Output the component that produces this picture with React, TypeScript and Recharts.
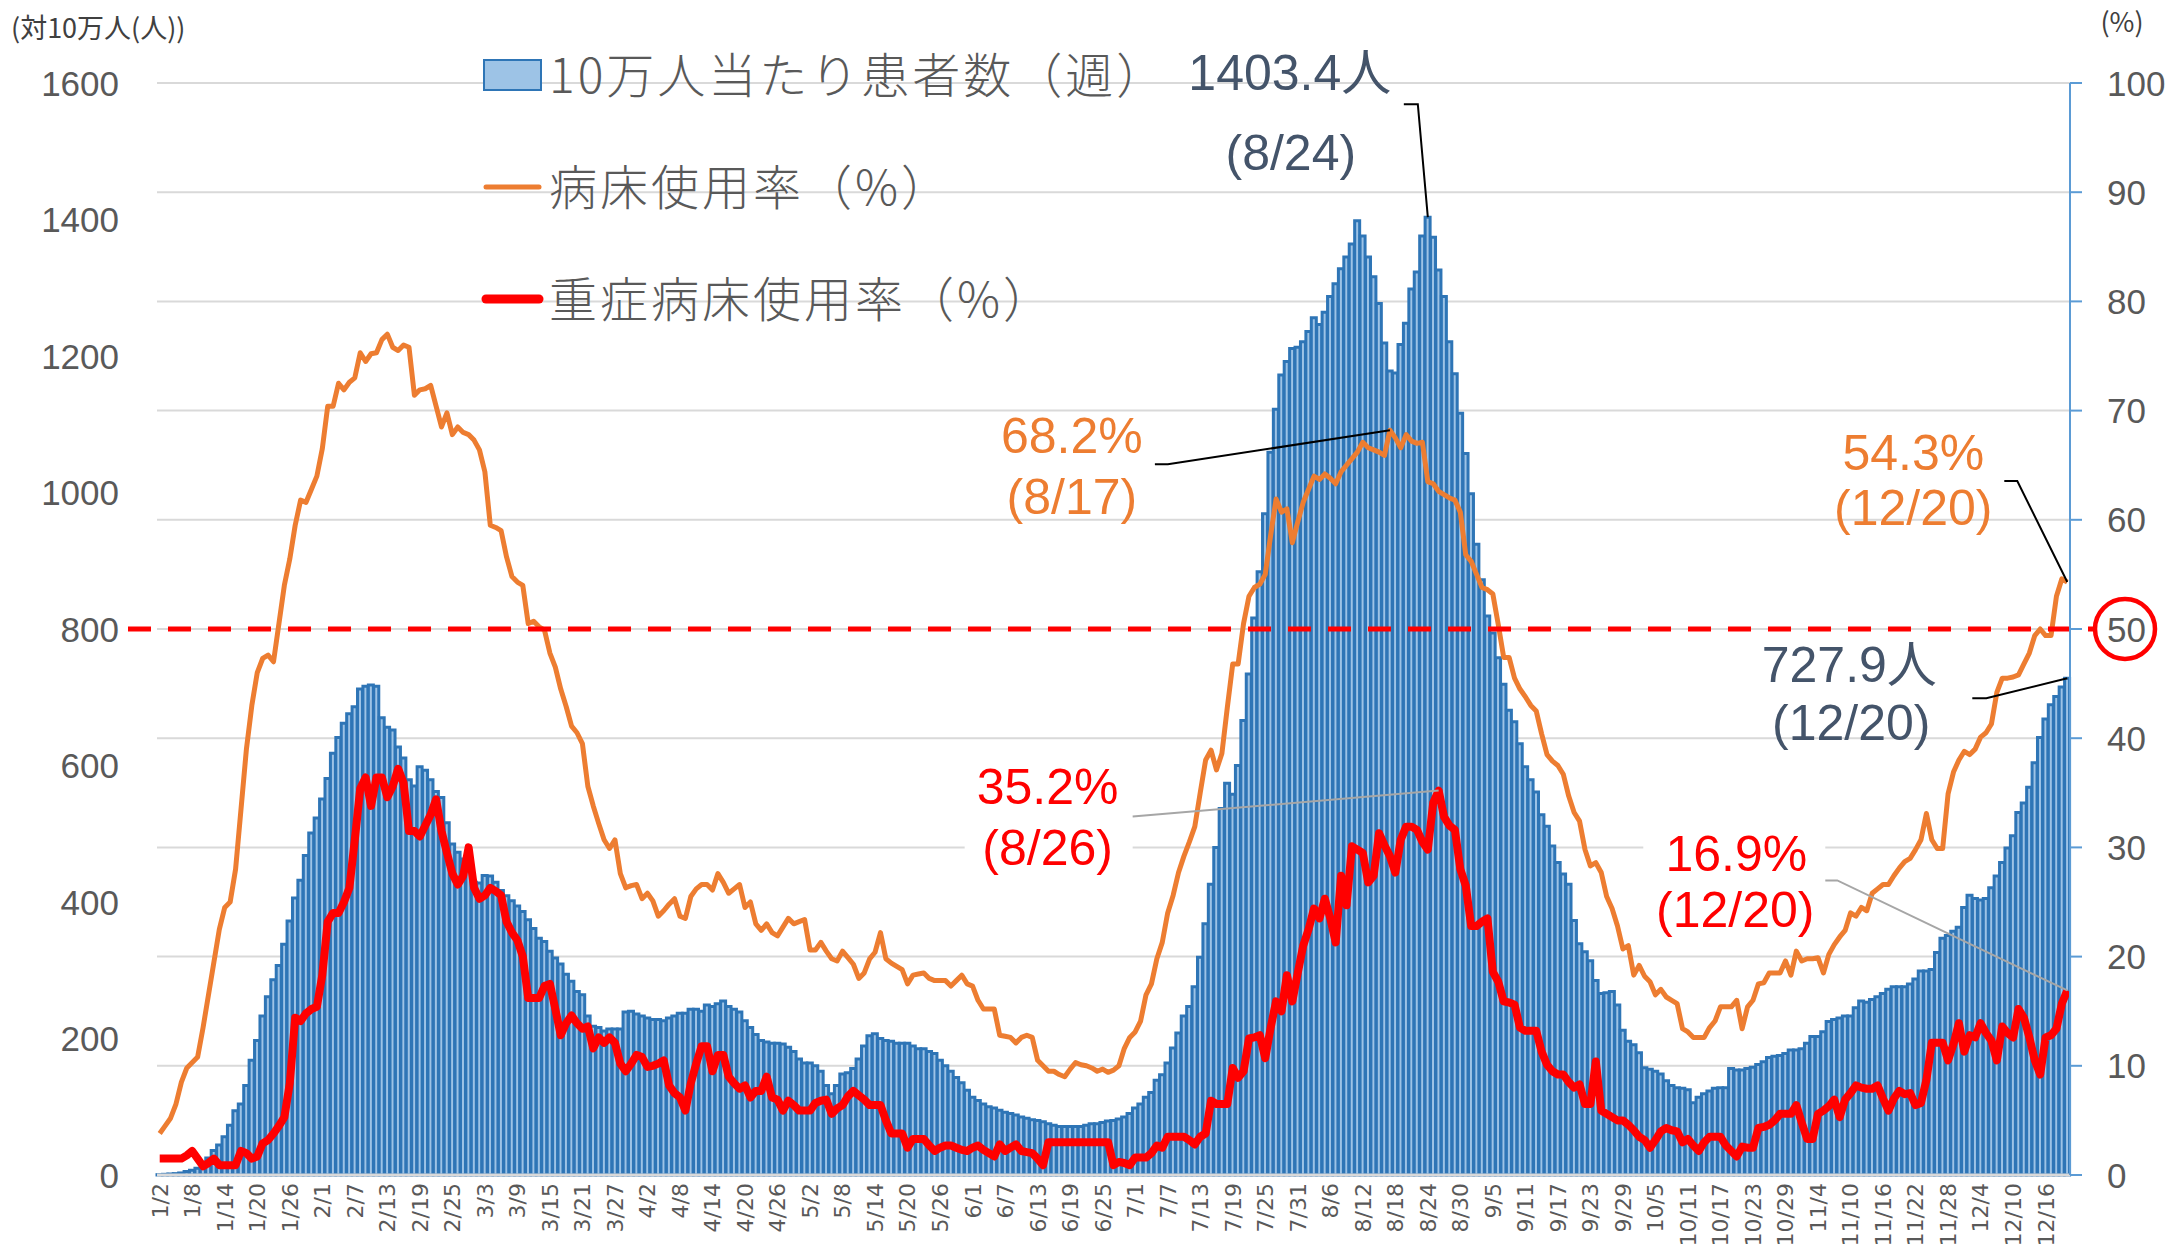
import React from 'react';
import { ComposedChart, Bar, Line, XAxis, YAxis, CartesianGrid, ReferenceLine, ReferenceDot } from 'recharts';

// 10万人当たり患者数（週）, daily from 1/2 to 12/20
const patientsPer100k = [
  // Jan
  0.5, 1, 1.5, 2, 3, 5, 7, 10, 15, 25, 36, 44, 56, 73, 94, 104, 131, 168, 197, 233, 261, 286, 307, 338, 372, 406, 432, 468, 501, 523,
  // Feb
  551, 581, 618, 641, 662, 676, 686, 712, 716, 718, 716, 670, 656, 652, 627, 611, 579, 570, 598, 593, 579, 562, 553, 516, 485, 473, 463, 450,
  // Mar
  429, 428, 439, 438, 429, 417, 409, 402, 394, 386, 374, 361, 347, 342, 328, 318, 309, 294, 284, 269, 264, 233, 218, 216, 211, 214, 214, 214, 239, 240, 236,
  // Apr
  233, 230, 228, 228, 226, 230, 233, 237, 237, 243, 243, 240, 249, 247, 251, 255, 247, 243, 239, 226, 216, 206, 197, 195, 193, 193, 192, 187, 181, 170,
  // May
  164, 164, 160, 152, 131, 119, 131, 148, 150, 156, 170, 189, 204, 207, 200, 197, 196, 193, 193, 193, 189, 185, 185, 181, 178, 168, 160, 152, 143, 135, 124,
  // Jun
  114, 109, 104, 100, 98, 95, 92, 90, 88, 85, 83, 81, 80, 78, 75, 73, 71, 71, 71, 71, 71, 73, 75, 75, 77, 79, 80, 82, 85, 90,
  // Jul
  98, 104, 114, 121, 139, 147, 164, 186, 208, 233, 247, 276, 319, 368, 426, 480, 537, 574, 558, 600, 666, 734, 816, 884, 969, 1059, 1122, 1172, 1192, 1211, 1213,
  // Aug
  1221, 1236, 1256, 1246, 1264, 1287, 1306, 1328, 1345, 1364, 1398, 1376, 1345, 1316, 1277, 1219, 1178, 1175, 1217, 1248, 1298, 1323, 1376, 1403.4, 1374, 1326, 1287, 1221, 1174, 1116, 1057,
  // Sep
  998, 924, 872, 819, 794, 758, 719, 681, 664, 632, 598, 579, 561, 528, 511, 482, 458, 441, 426, 373, 339, 327, 314, 285, 266, 267, 269, 249, 212, 196,
  // Oct
  191, 179, 157, 155, 152, 148, 138, 131, 128, 127, 125, 106, 114, 119, 123, 127, 128, 128, 156, 154, 154, 156, 158, 162, 166, 172, 174, 175, 178, 183, 183,
  // Nov
  185, 193, 203, 203, 210, 225, 228, 230, 233, 233, 245, 255, 253, 257, 261, 266, 272, 276, 276, 276, 280, 287, 299, 299, 301, 326, 347, 351, 357, 363,
  // Dec
  392, 410, 405, 403, 405, 421, 438, 458, 479, 497, 531, 545, 568, 604, 641, 668, 689, 701, 715, 727.9,
];

// 病床使用率（%）
const bedUsageRate = [
  3.8, 4.5, 5.2, 6.5, 8.5, 9.8, 10.3, 10.8, 13.5, 16.5, 19.5, 22.5, 24.5, 25, 28, 33.5, 39, 43, 46, 47.3, 47.6, 47, 50.5, 54, 56.4, 59.5, 61.8, 61.6, 62.8, 64,
  66.5, 70.4, 70.4, 72.5, 71.9, 72.6, 73, 75.3, 74.5, 75.2, 75.3, 76.5, 77, 75.8, 75.5, 76, 75.8, 71.4, 71.9, 72, 72.3, 70.4, 68.5, 69.8, 67.8, 68.5, 68, 67.8,
  67.3, 66.4, 64.4, 59.5, 59.3, 59, 56.6, 54.8, 54.3, 54, 50.5, 50.7, 50.2, 49.9, 47.8, 46.5, 44.5, 42.9, 41.1, 40.5, 39.5, 35.6, 33.8, 32.2, 30.7, 29.9, 30.7, 27.6, 26.3, 26.5, 26.6,
  25.3, 25.8, 25.1, 23.7, 24.2, 24.8, 25.3, 23.7, 23.5, 25.5, 26.2, 26.6, 26.6, 26.1, 27.6, 26.8, 25.8, 26.2, 26.6, 24.5, 25, 23, 22.4, 23, 22.2, 21.9, 22.7, 23.5, 23, 23.2,
  23.4, 20.6, 20.6, 21.3, 20.5, 19.8, 19.6, 20.5, 19.9, 19.3, 18, 18.5, 19.8, 20.4, 22.2, 19.8, 19.4, 19.1, 18.8, 17.5, 18.3, 18.4, 18.5, 18, 17.8, 17.8, 17.8, 17.3, 17.8, 18.3, 17.5,
  17.3, 16, 15.2, 15.2, 15.2, 12.8, 12.7, 12.6, 12.1, 12.6, 12.8, 12.6, 10.5, 10, 9.5, 9.5, 9.2, 9, 9.7, 10.3, 10.1, 10, 9.8, 9.5, 9.7, 9.4, 9.6, 10, 11.6, 12.6,
  13.1, 14.1, 16.5, 17.5, 19.8, 21.3, 24, 25.6, 27.7, 29.2, 30.5, 31.9, 35, 38, 38.9, 37.1, 38.6, 42.8, 46.8, 46.8, 50.5, 53, 53.8, 54.1, 55, 58.6, 61.9, 60.7, 61, 57.9, 59.8,
  61.6, 62.8, 64, 63.7, 64.2, 63.8, 63.3, 64.4, 65, 65.6, 66.2, 67.1, 66.6, 66.4, 66.2, 65.9, 68.2, 67.5, 66.6, 67.8, 67.2, 67, 67.1, 63.5, 63.3, 62.6, 62.3, 62, 61.8, 60.7, 56.8,
  56.2, 55, 53.8, 53.6, 53.2, 50.4, 47.4, 47.4, 45.5, 44.5, 43.8, 43, 42.5, 40.4, 38.5, 37.9, 37.5, 36.7, 34.7, 33.2, 32.4, 29.8, 28.3, 28.6, 27.7, 25.5, 24.4, 22.8, 20.7, 21,
  18.3, 19.2, 18.2, 17.7, 16.5, 17, 16.3, 16, 15.7, 13.4, 13.1, 12.6, 12.6, 12.6, 13.5, 14.1, 15.4, 15.4, 15.4, 16, 13.4, 15.4, 16, 17.5, 17.6, 18.5, 18.5, 18.5, 19.6, 18.3, 20.5,
  19.6, 19.8, 19.8, 19.9, 18.5, 20.2, 21.1, 21.8, 22.4, 24, 23.7, 24.5, 24.2, 25.8, 26.2, 26.6, 26.6, 27.4, 28.1, 28.7, 29, 29.8, 30.7, 33.1, 30.7, 29.9, 29.9, 34.9, 36.9, 38,
  38.8, 38.5, 39, 40.1, 40.5, 41.3, 44.2, 45.5, 45.5, 45.6, 45.8, 46.8, 47.8, 49.4, 50, 49.4, 49.4, 53, 54.6, 54.3,
];

// 重症病床使用率（%）
const severeBedUsageRate = [
  1.5, 1.5, 1.5, 1.5, 1.5, 1.8, 2.2, 1.5, 0.8, 1.1, 1.5, 0.9, 0.9, 0.9, 0.9, 2.2, 2, 1.5, 1.7, 2.9, 3.2, 3.8, 4.5, 5.3, 8.4, 14.4, 14.1, 14.8, 15.2, 15.4,
  18.3, 23.2, 24, 24, 25, 26.3, 30.7, 35.4, 36.4, 33.8, 36.4, 36.4, 34.6, 35.6, 37.2, 35.9, 31.5, 31.5, 31, 32, 33, 34.4, 31.5, 29.5, 27.6, 26.6, 27.4, 30,
  26.3, 25.3, 25.6, 26.3, 26, 25.6, 23.2, 22.2, 21.5, 20, 16.2, 16.2, 16.2, 17.3, 17.5, 15.2, 12.8, 13.9, 14.6, 13.9, 13.4, 13.6, 11.6, 12.6, 12.1, 12.6, 12.1, 10.2, 9.5, 10.2, 11,
  10.8, 9.9, 10, 10.2, 10.5, 8.2, 7.5, 7.1, 5.9, 8.4, 10.2, 11.8, 11.8, 9.5, 11, 11, 9, 8.4, 7.9, 8.2, 7.1, 7.7, 7.7, 9, 7.1, 6.9, 5.9, 6.8, 6.4, 5.9,
  5.9, 5.9, 6.6, 6.8, 6.9, 5.6, 6.1, 6.4, 7.2, 7.7, 7.3, 6.9, 6.4, 6.4, 6.4, 5, 3.8, 3.8, 3.8, 2.5, 3.3, 3.3, 3.3, 2.7, 2.2, 2.5, 2.7, 2.7, 2.5, 2.3, 2.2,
  2.5, 2.7, 2.3, 2, 1.7, 2.8, 2.2, 2.5, 2.8, 2.2, 2.1, 2, 1.5, 0.9, 3, 3, 3, 3, 3, 3, 3, 3, 3, 3, 3, 3, 0.9, 1.2, 1.1, 0.9,
  1.6, 1.6, 1.6, 2, 2.7, 2.5, 3.5, 3.5, 3.5, 3.5, 3.2, 2.8, 3.5, 3.8, 6.8, 6.5, 6.5, 6.5, 9.8, 8.9, 9.5, 12.5, 12.6, 12.8, 10.7, 13.5, 15.9, 15, 18.3, 15.9, 18.5,
  21, 22.5, 24.4, 23.5, 25.3, 23.5, 21.3, 27.4, 24.7, 30.1, 29.8, 29.5, 26.8, 27.4, 31.3, 30.2, 29.2, 27.7, 30.7, 31.9, 31.9, 31.6, 30.5, 29.8, 34.1, 35.2, 32.8, 32, 31.6, 28, 26.5,
  22.8, 22.8, 23.2, 23.5, 18.6, 17.7, 15.9, 15.8, 15.6, 13.5, 13.2, 13.2, 13.2, 11.3, 10.1, 9.5, 9.2, 9.2, 8.5, 8, 8.3, 6.5, 6.5, 10.4, 5.9, 5.6, 5.3, 5, 5, 4.6,
  4.1, 3.5, 3.2, 2.5, 3.2, 4, 4.3, 4.1, 4, 3, 3.3, 2.7, 2.2, 3, 3.5, 3.5, 3.5, 2.7, 2.2, 1.7, 2.6, 2.5, 2.5, 4.3, 4.4, 4.6, 5, 5.6, 5.6, 5.6, 6.4,
  4.8, 3.3, 3.3, 5.6, 5.9, 6.3, 6.9, 5.3, 6.9, 7.5, 8.2, 8, 7.9, 7.9, 8.2, 7, 5.9, 7, 7.7, 7.4, 7.5, 6.4, 6.6, 8.7, 12.1, 12.1, 12.1, 10.5, 12, 13.9,
  11.3, 12.8, 12.6, 13.9, 13, 12.3, 10.5, 13.6, 13, 12.6, 15.2, 14.4, 12.6, 10.5, 9.2, 12.6, 12.8, 13.4, 15.7, 16.9,
];

const leftTicks = [0, 200, 400, 600, 800, 1000, 1200, 1400, 1600];
const rightTicks = [0, 10, 20, 30, 40, 50, 60, 70, 80, 90, 100];
const thresholdRate = 50;

// categories: 1/2 .. 12/20
const monthDays = [31, 28, 31, 30, 31, 30, 31, 31, 30, 31, 30, 20];
const dates: string[] = [];
monthDays.forEach((n, m) => {
  for (let d = m === 0 ? 2 : 1; d <= n; d++) dates.push(`${m + 1}/${d}`);
});

const data = dates.map((date, i) => ({
  date,
  patients: patientsPer100k[i],
  bed: bedUsageRate[i],
  severe: severeBedUsageRate[i],
}));

const GRAY = '#595959';
const NUM_FONT = "'Liberation Sans', Arial, 'Noto Sans CJK JP', sans-serif";
const CJK_FONT = "'Noto Sans CJK JP', 'Noto Sans CJK SC', sans-serif";

const LeftTick = (p: any) => (
  <text x={p.x} y={p.y} dy="0.36em" textAnchor="end" fontSize={35} fill={GRAY} fontFamily={NUM_FONT}>
    {p.payload.value}
  </text>
);

const RightTick = (p: any) => (
  <g>
    <text x={p.x} y={p.y} dy="0.36em" textAnchor="start" fontSize={35} fill={GRAY} fontFamily={NUM_FONT}>
      {p.payload.value}
    </text>
    {p.payload.value === thresholdRate && (
      <circle cx={p.x + 18} cy={p.y} r={30} fill="none" stroke="#FF0000" strokeWidth={4.5} />
    )}
  </g>
);

const DateTick = (p: any) => (
  <text
    x={p.x}
    y={p.y}
    dy="0.36em"
    textAnchor="end"
    transform={`rotate(-90 ${p.x} ${p.y})`}
    fontSize={22}
    fill={GRAY}
    fontFamily="'DejaVu Sans', Verdana, sans-serif"
  >
    {p.payload.value}
  </text>
);

// callouts: anchor on a data point, label offsets relative to it
const callouts = [
  { date: '8/24', key: 'patients', axis: 'left', unit: '人', color: '#44546A', leader: '#000000',
    valuePos: [-138, -144], datePos: [-137, -64], path: [[-10, -113], [-24, -113]] },
  { date: '8/17', key: 'bed', axis: 0, unit: '%', color: '#ED7D31', leader: '#000000',
    valuePos: [-318, 6], datePos: [-318, 67], path: [[-222, 34], [-235, 34]] },
  { date: '8/26', key: 'severe', axis: 0, unit: '%', color: '#FF0000', leader: '#A6A6A6',
    valuePos: [-391, -4], datePos: [-391, 57], path: [[-306, 26]], box: [-474, -31, 168, 120] },
  { date: '12/20', key: 'bed', axis: 0, unit: '%', color: '#ED7D31', leader: '#000000',
    valuePos: [-154, -129], datePos: [-154, -74], path: [[-50, -101], [-63, -101]] },
  { date: '12/20', key: 'patients', axis: 'left', unit: '人', color: '#44546A', leader: '#000000',
    valuePos: [-218, -13], datePos: [-216, 45], path: [[-81, 20], [-95, 20]] },
  { date: '12/20', key: 'severe', axis: 0, unit: '%', color: '#FF0000', leader: '#A6A6A6',
    valuePos: [-331, -136], datePos: [-332, -80], path: [[-230, -110], [-242, -110]], box: [-424, -163, 182, 112] },
];

const calloutShape = (c: any, value: number) => (p: any) => {
  const { cx, cy } = p;
  const pts = [[0, 0], ...c.path].map(([dx, dy]: number[]) => `${cx + dx},${cy + dy}`).join(' ');
  return (
    <g>
      {c.box && <rect x={cx + c.box[0]} y={cy + c.box[1]} width={c.box[2]} height={c.box[3]} fill="#ffffff" />}
      <polyline points={pts} fill="none" stroke={c.leader} strokeWidth={2} />
      <text x={cx + c.valuePos[0]} y={cy + c.valuePos[1]} textAnchor="middle" dominantBaseline="central"
        fontSize={50} fill={c.color} fontFamily={NUM_FONT}>
        {`${value}${c.unit}`}
      </text>
      <text x={cx + c.datePos[0]} y={cy + c.datePos[1]} textAnchor="middle" dominantBaseline="central"
        fontSize={50} fill={c.color} fontFamily={NUM_FONT}>
        {`(${c.date})`}
      </text>
    </g>
  );
};

// dashed threshold line, drawn a little past both ends of the plot
const thresholdShape = (p: any) => {
  const left = Math.min(p.x1, p.x2) - 29;
  const right = Math.max(p.x1, p.x2) + 27;
  return <line x1={left} y1={p.y1} x2={right} y2={p.y1} stroke="#FF0000" strokeWidth={5} strokeDasharray="23 17" />;
};

const legendItems = [
  { name: '10万人当たり患者数（週）', type: 'rect', color: '#9DC3E6', stroke: '#2E75B6', y: 75 },
  { name: '病床使用率（%）', type: 'line', color: '#ED7D31', width: 5, y: 187 },
  { name: '重症病床使用率（%）', type: 'line', color: '#FF0000', width: 9, y: 299 },
];

export default function App() {
  return (
    <div style={{ position: 'absolute', left: 0, top: 0, width: 2178, height: 1256, background: '#ffffff' }}>
      <ComposedChart
        width={2178}
        height={1256}
        data={data}
        margin={{ top: 83, right: 0, bottom: 0, left: 0 }}
        barCategoryGap={0}
        barGap={0}
      >
        <CartesianGrid vertical={false} stroke="#D9D9D9" strokeWidth={2} />
        <XAxis
          dataKey="date"
          interval={5}
          height={81}
          tick={<DateTick />}
          tickLine={false}
          tickSize={0}
          tickMargin={8}
          axisLine={{ stroke: '#D9D9D9', strokeWidth: 3 }}
        />
        <YAxis
          yAxisId="left"
          domain={[0, 1600]}
          ticks={leftTicks}
          width={157}
          tick={<LeftTick />}
          tickLine={false}
          axisLine={false}
          tickSize={0}
          tickMargin={38}
        />
        <YAxis
          orientation="right"
          domain={[0, 100]}
          ticks={rightTicks}
          width={108}
          tick={<RightTick />}
          tickSize={12}
          tickMargin={25}
          tickLine={{ stroke: '#5B9BD5', strokeWidth: 2 }}
          axisLine={{ stroke: '#5B9BD5', strokeWidth: 2 }}
        />
        <Bar yAxisId="left" dataKey="patients" fill="#9DC3E6" stroke="#2E75B6" strokeWidth={3} isAnimationActive={false} />
        <Line dataKey="bed" stroke="#ED7D31" strokeWidth={5} dot={false} strokeLinejoin="round" isAnimationActive={false} />
        <Line dataKey="severe" stroke="#FF0000" strokeWidth={8} dot={false} strokeLinejoin="round" isAnimationActive={false} />
        <ReferenceLine y={thresholdRate} ifOverflow="visible" shape={thresholdShape} />
        {callouts.map((c, i) => {
          const idx = dates.indexOf(c.date);
          const value = (data[idx] as any)[c.key];
          return (
            <ReferenceDot
              key={i}
              x={c.date}
              y={value}
              yAxisId={c.axis}
              r={0}
              ifOverflow="visible"
              shape={calloutShape(c, value)}
            />
          );
        })}
      </ComposedChart>
      <svg width={2178} height={1256} style={{ position: 'absolute', left: 0, top: 0, pointerEvents: 'none' }}>
        <text x={11} y={26} dominantBaseline="central" fontSize={27} fill="#404040" fontFamily={CJK_FONT}>(対10万人(人))</text>
        <text x={2122} y={20} textAnchor="middle" dominantBaseline="central" fontSize={27} fill="#404040" fontFamily={CJK_FONT}>(%)</text>
        {legendItems.map((it) => (
          <g key={it.name}>
            {it.type === 'rect' ? (
              <rect x={484} y={it.y - 15} width={57} height={30} fill={it.color} stroke={it.stroke} strokeWidth={2} />
            ) : (
              <line x1={486} x2={539} y1={it.y} y2={it.y} stroke={it.color} strokeWidth={it.width} strokeLinecap="round" />
            )}
            <text x={549} y={it.y - 3} dominantBaseline="central" fontSize={48} letterSpacing={3} fontWeight={300}
              fill={GRAY} fontFamily={CJK_FONT}>
              {it.name}
            </text>
          </g>
        ))}
      </svg>
    </div>
  );
}
